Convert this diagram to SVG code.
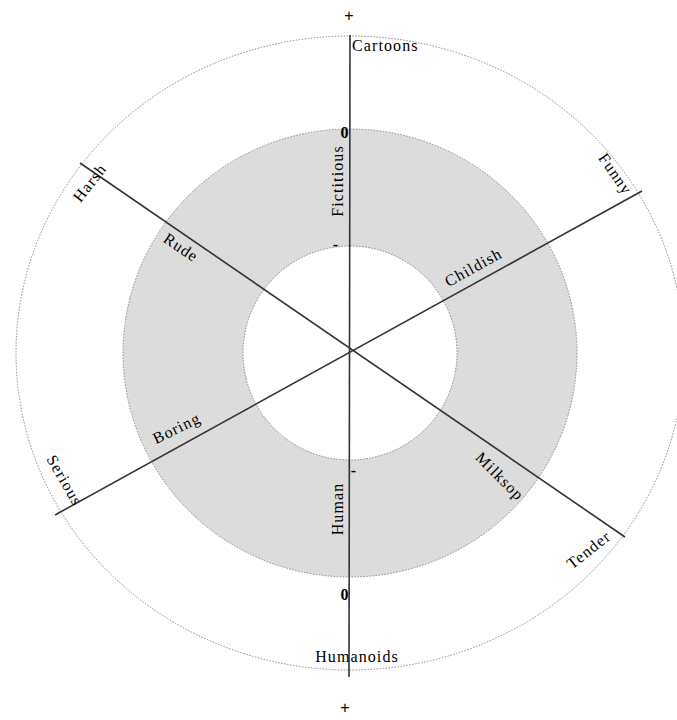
<svg xmlns="http://www.w3.org/2000/svg" width="677" height="720" viewBox="0 0 677 720">
<style>
.t{font-family:"Liberation Serif","DejaVu Serif",serif;font-size:16px;letter-spacing:1.1px;fill:#000}
.p{font-family:"Liberation Sans","DejaVu Sans",sans-serif;font-size:16px;fill:#000}
.ring{stroke:#888;stroke-width:1;stroke-dasharray:1.5 1.5}
.ax{stroke:#333;stroke-width:1.6;fill:none}
</style>
<rect width="677" height="720" fill="#fff"/>
<g id="outer"><ellipse cx="350" cy="353" rx="334" ry="317" fill="none" class="ring"/></g>
<g id="band"><ellipse cx="350" cy="353" rx="227" ry="224" fill="#dcdcdc" class="ring"/></g>
<g id="inner"><ellipse cx="350" cy="353" rx="107" ry="107" fill="#fff" class="ring"/></g>
<g id="connectors">
<line class="ax" x1="80" y1="163" x2="625" y2="537"/>
<line class="ax" x1="642" y1="191" x2="55" y2="515"/>
<line class="ax" x1="350" y1="35" x2="349" y2="677" stroke="#000"/>
</g>
<g id="labels">
<text class="p" x="349" y="21" text-anchor="middle">+</text>
<text class="p" x="345" y="713" text-anchor="middle">+</text>
<text class="t" x="352" y="51">Cartoons</text>
<text class="t" x="357" y="662" text-anchor="middle">Humanoids</text>
<text class="t" x="345" y="138" text-anchor="middle" font-weight="bold">0</text>
<text class="t" x="345" y="600" text-anchor="middle" font-weight="bold">0</text>
<text class="t" x="336" y="250" text-anchor="middle" font-weight="bold">-</text>
<text class="t" x="354" y="476" text-anchor="middle" font-weight="bold">-</text>
<text class="t" transform="translate(343,181) rotate(-90)" text-anchor="middle">Fictitious</text>
<text class="t" transform="translate(343,509) rotate(-90)" text-anchor="middle">Human</text>
<text class="t" transform="translate(94,186) rotate(-52)" text-anchor="middle">Harsh</text>
<text class="t" transform="translate(178,252) rotate(34)" text-anchor="middle">Rude</text>
<text class="t" transform="translate(476,272) rotate(-29)" text-anchor="middle">Childish</text>
<text class="t" transform="translate(611,177) rotate(55)" text-anchor="middle">Funny</text>
<text class="t" transform="translate(179,433) rotate(-26)" text-anchor="middle">Boring</text>
<text class="t" transform="translate(60,483) rotate(60)" text-anchor="middle">Serious</text>
<text class="t" transform="translate(496,480) rotate(45)" text-anchor="middle">Milksop</text>
<text class="t" transform="translate(592,554) rotate(-38)" text-anchor="middle">Tender</text>
</g>
</svg>
